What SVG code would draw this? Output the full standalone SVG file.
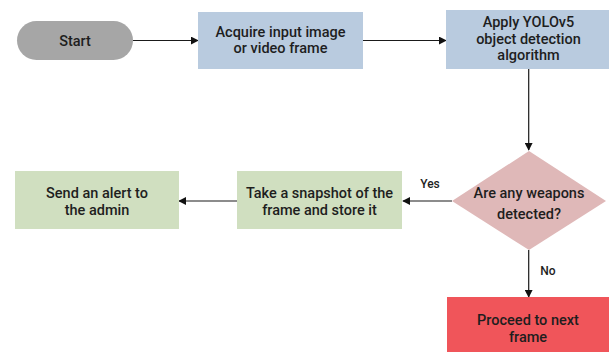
<svg xmlns="http://www.w3.org/2000/svg" width="609" height="352" viewBox="0 0 609 352">
<defs>
<style>
text{font-family:Roboto,"Liberation Sans",Arial,sans-serif;font-weight:500;font-size:14.5px;fill:#1e1e1e;text-anchor:middle}
.lbl{font-size:12px}
.edge{stroke:#1a1a1a;stroke-width:1.2;fill:none;marker-end:url(#ah)}
</style>
<marker id="ah" viewBox="0 0 10 10" refX="9" refY="5" markerWidth="8" markerHeight="8" markerUnits="userSpaceOnUse" orient="auto">
<path d="M0,0 L10,5 L0,10 z" fill="#111"/>
</marker>
</defs>
<rect width="609" height="352" fill="#fff"/>
<g id="connectors">
<line class="edge" x1="133" y1="40.5" x2="198" y2="40.5"/>
<line class="edge" x1="363" y1="40.5" x2="446" y2="40.5"/>
<line class="edge" x1="528.7" y1="69" x2="528.7" y2="150"/>
<line class="edge" x1="452" y1="201" x2="403" y2="201"/>
<line class="edge" x1="237" y1="201" x2="179" y2="201"/>
<line class="edge" x1="528.7" y1="250" x2="528.7" y2="297"/>
<text class="lbl" x="430" y="188">Yes</text>
<text class="lbl" x="548" y="275">No</text>
</g>
<g id="start">
<rect x="17" y="21" width="116" height="39" rx="19.5" fill="#a6a6a6"/>
<text x="75" y="46">Start</text>
</g>
<g id="acquire">
<rect x="198" y="12" width="165" height="57" fill="#b9cbdf"/>
<text x="280.5" y="36.5">Acquire input image</text>
<text x="280.5" y="52.5">or video frame</text>
</g>
<g id="yolo">
<rect x="446" y="10" width="163" height="59" fill="#b9cbdf"/>
<text x="528.5" y="27">Apply YOLOv5</text>
<text x="528.5" y="43.5">object detection</text>
<text x="528.5" y="60">algorithm</text>
</g>
<g id="decision">
<polygon points="529,151 606,201 529,250 452,201" fill="#dfb8b8"/>
<text x="529" y="198">Are any weapons</text>
<text x="529" y="219">detected?</text>
</g>
<g id="snapshot">
<rect x="237" y="171" width="165" height="58" fill="#d0dfc0"/>
<text x="319.5" y="198">Take a snapshot of the</text>
<text x="319.5" y="215">frame and store it</text>
</g>
<g id="alert">
<rect x="15" y="171" width="164" height="58" fill="#d0dfc0"/>
<text x="97" y="198">Send an alert to</text>
<text x="97" y="215">the admin</text>
</g>
<g id="proceed">
<rect x="447" y="297" width="162" height="55" fill="#f0555a"/>
<text x="528" y="325">Proceed to next</text>
<text x="528" y="342">frame</text>
</g>
</svg>
